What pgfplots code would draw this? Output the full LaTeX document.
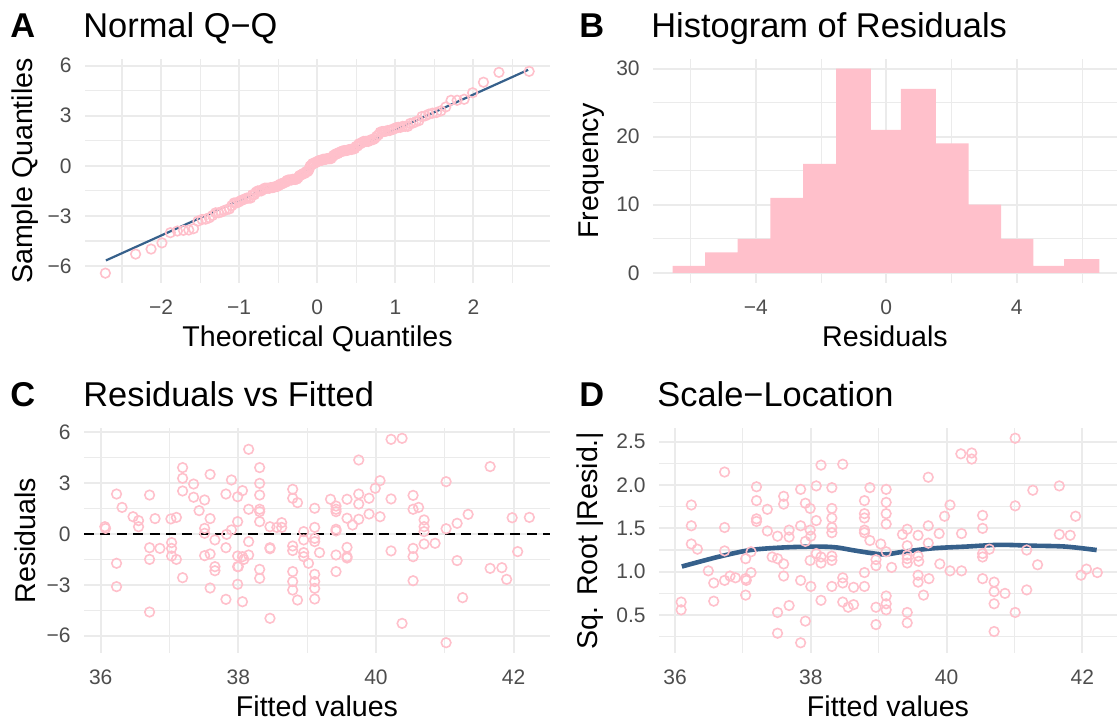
\documentclass[border=0pt]{standalone}
\usepackage{fontspec}
\setmainfont{Liberation Sans}
\usepackage{pgfplots}
\pgfplotsset{compat=1.18}

\definecolor{pinkc}{RGB}{255,192,203}
\definecolor{lineblue}{RGB}{54,96,139}
\definecolor{gridc}{RGB}{235,235,235}
\definecolor{tickc}{RGB}{77,77,77}

\newcommand{\lblfont}{\fontsize{14.3}{16}\selectfont}
\newcommand{\ttl}{\fontsize{17.2}{19}\selectfont}

\pgfplotsset{
  diag/.style={
    scale only axis,
    axis line style={draw=none},
    major tick length=0pt, minor tick length=0pt,
    grid=both,
    major grid style={gridc, line width=1pt},
    minor grid style={gridc, line width=0.55pt},
    /pgf/number format/assume math mode=true,
    /pgf/number format/fixed,
    tick label style={font=\fontsize{10.5}{12}\selectfont, text=tickc},
    xticklabel style={anchor=base, yshift=-15.5pt, inner sep=0pt},
    yticklabel style={anchor=east, xshift=-6.5pt, inner sep=0pt},
    every axis x label/.style={at={(rel axis cs:0.5,0)}, anchor=base, yshift=-31.5pt,
      inner sep=0pt, font=\lblfont},
    every axis y label/.style={rotate=90, anchor=center, inner sep=0pt, font=\lblfont},
  },
  pts/.style={only marks, mark=o, mark size=2.4pt, pinkc, mark options={line width=0.8pt}},
}

\begin{document}
\begin{tikzpicture}
\useasboundingbox (0,0) rectangle (558.5pt,360pt);

% A: Normal Q-Q
\begin{axis}[diag,
  at={(42.5pt,218.5pt)}, anchor=south west,
  width=232.5pt, height=112pt,
  xmin=-2.974, xmax=2.98, ymin=-7.01, ymax=6.39,
  xtick={-2,-1,0,1,2}, xticklabels={−2,−1,0,1,2},
  minor xtick={-2.5,-1.5,-0.5,0.5,1.5,2.5},
  ytick={-6,-3,0,3,6}, yticklabels={−6,−3,0,3,6},
  minor ytick={-4.5,-1.5,1.5,4.5},
  xlabel={Theoretical Quantiles}, ylabel={Sample Quantiles},
  ylabel style={at={([xshift=-30pt]rel axis cs:0,0.5)}},
]
\addplot[pts] coordinates {
(-2.713,-6.42) (-2.326,-5.28) (-2.128,-4.98) (-1.989,-4.61) (-1.881,-4.00)
(-1.791,-3.90) (-1.713,-3.86) (-1.645,-3.84) (-1.584,-3.76) (-1.528,-3.31)
(-1.476,-3.21) (-1.428,-3.19) (-1.383,-3.11) (-1.341,-2.97) (-1.301,-2.81)
(-1.263,-2.81) (-1.227,-2.76) (-1.192,-2.68) (-1.159,-2.62) (-1.126,-2.58)
(-1.095,-2.38) (-1.065,-2.22) (-1.036,-2.22) (-1.008,-2.17) (-0.981,-2.09)
(-0.954,-2.03) (-0.928,-1.99) (-0.903,-1.93) (-0.878,-1.93) (-0.854,-1.93)
(-0.830,-1.73) (-0.806,-1.73) (-0.783,-1.57) (-0.761,-1.50) (-0.739,-1.50)
(-0.717,-1.50) (-0.696,-1.42) (-0.674,-1.34) (-0.654,-1.34) (-0.633,-1.34)
(-0.613,-1.34) (-0.593,-1.30) (-0.573,-1.30) (-0.553,-1.28) (-0.534,-1.24)
(-0.515,-1.24) (-0.496,-1.18) (-0.477,-1.10) (-0.459,-1.10) (-0.440,-1.04)
(-0.422,-1.00) (-0.404,-0.98) (-0.385,-0.87) (-0.367,-0.85) (-0.349,-0.85)
(-0.332,-0.85) (-0.314,-0.81) (-0.297,-0.81) (-0.279,-0.81) (-0.262,-0.79)
(-0.245,-0.71) (-0.228,-0.59) (-0.210,-0.55) (-0.193,-0.51) (-0.176,-0.45)
(-0.159,-0.45) (-0.143,-0.35) (-0.126,-0.35) (-0.109,-0.26) (-0.092,-0.02)
(-0.075,0.04) (-0.059,0.14) (-0.042,0.14) (-0.025,0.18) (-0.008,0.24)
(0.008,0.28) (0.025,0.31) (0.042,0.33) (0.059,0.33) (0.075,0.39)
(0.092,0.39) (0.109,0.39) (0.126,0.43) (0.143,0.43) (0.159,0.43)
(0.176,0.43) (0.193,0.53) (0.210,0.63) (0.228,0.67) (0.245,0.73)
(0.262,0.73) (0.279,0.79) (0.297,0.83) (0.314,0.87) (0.332,0.89)
(0.349,0.91) (0.367,0.91) (0.385,0.93) (0.404,0.96) (0.422,0.98)
(0.440,0.98) (0.459,1.02) (0.477,1.02) (0.496,1.16) (0.515,1.18)
(0.534,1.32) (0.553,1.32) (0.573,1.38) (0.593,1.46) (0.613,1.46)
(0.633,1.46) (0.654,1.46) (0.674,1.52) (0.696,1.57) (0.717,1.57)
(0.739,1.65) (0.761,1.77) (0.783,1.85) (0.806,2.01) (0.830,2.05)
(0.854,2.05) (0.878,2.07) (0.903,2.11) (0.928,2.11) (0.954,2.17)
(0.981,2.20) (1.008,2.28) (1.036,2.30) (1.065,2.30) (1.095,2.36)
(1.126,2.36) (1.159,2.36) (1.192,2.54) (1.227,2.56) (1.263,2.64)
(1.301,2.70) (1.341,2.95) (1.383,2.99) (1.428,3.09) (1.476,3.15)
(1.528,3.19) (1.584,3.29) (1.645,3.52) (1.713,3.92) (1.791,3.92)
(1.881,3.98) (1.989,4.37) (2.128,5.00) (2.326,5.59) (2.713,5.65)
};
\addplot[lineblue, line width=1.1pt] coordinates {(-2.706,-5.66) (2.70,5.74)};
\end{axis}

% B: Histogram
\begin{axis}[diag,
  at={(326.5pt,218.5pt)}, anchor=south west,
  width=232pt, height=112pt,
  xmin=-7.15, xmax=7.07, ymin=-1.5, ymax=31.4,
  xtick={-4,0,4}, xticklabels={−4,0,4},
  minor xtick={-6,-2,2,6},
  ytick={0,10,20,30}, minor ytick={5,15,25},
  xlabel={Residuals}, ylabel={Frequency},
  ylabel style={at={([xshift=-30.5pt]rel axis cs:0,0.5)}},
]
\addplot[ybar interval, fill=pinkc, draw=none] coordinates {
(-6.55,1) (-5.55,3) (-4.56,5) (-3.55,11) (-2.55,16) (-1.54,30) (-0.47,21)
(0.45,27) (1.52,19) (2.52,10) (3.52,5) (4.51,1) (5.45,2) (6.53,2)
};
\end{axis}

% C: Residuals vs Fitted
\begin{axis}[diag,
  at={(42pt,33.5pt)}, anchor=south west,
  width=233pt, height=112.5pt,
  xmin=35.757, xmax=42.53, ymin=-7.03, ymax=6.26,
  xtick={36,38,40,42}, minor xtick={37,39,41},
  ytick={-6,-3,0,3,6}, yticklabels={−6,−3,0,3,6},
  minor ytick={-4.5,-1.5,1.5,4.5},
  xlabel={Fitted values}, ylabel={Residuals},
  ylabel style={at={([xshift=-29.5pt]rel axis cs:0,0.5)}},
]
\addplot[pts] coordinates {
(36.06,0.43) (36.07,0.33) (36.23,2.36) (36.31,1.57) (36.23,-1.73) (36.23,-3.11)
(36.47,1.02) (36.55,0.79) (36.55,0.43) (36.71,2.30) (36.71,-0.81) (36.71,-1.50)
(36.71,-4.61) (36.79,0.91) (36.86,-0.85) (37.02,0.89) (37.03,-0.51) (37.03,-0.85)
(37.03,-1.30) (37.10,0.98) (37.10,-1.50) (37.19,3.92) (37.19,3.29) (37.19,2.54)
(37.19,-2.58) (37.35,2.95) (37.35,2.17) (37.43,1.38) (37.51,2.01) (37.51,0.33)
(37.51,0.04) (37.51,-1.28) (37.59,3.52) (37.59,0.91) (37.59,-1.18) (37.59,-3.19)
(37.66,-0.35) (37.66,-1.93) (37.66,-2.17) (37.82,2.36) (37.82,-0.81) (37.82,-3.86)
(37.83,-0.02) (37.90,3.19) (37.90,0.24) (37.99,2.20) (37.99,0.73) (37.99,-1.30)
(37.99,-1.93) (38.00,-1.93) (37.99,-2.97) (38.06,2.56) (38.06,-1.34) (38.08,-1.50)
(38.06,-4.00) (38.15,5.00) (38.15,1.46) (38.15,-0.45) (38.15,-1.24) (38.31,3.92)
(38.31,2.99) (38.31,2.30) (38.31,1.46) (38.31,1.32) (38.31,0.73) (38.31,-2.09)
(38.31,-2.62) (38.46,0.43) (38.46,-0.81) (38.46,-0.87) (38.46,-4.98) (38.56,0.39)
(38.63,0.67) (38.63,0.39) (38.79,2.64) (38.79,2.11) (38.79,-0.71) (38.79,-0.98)
(38.79,-2.22) (38.79,-2.81) (38.79,-3.31) (38.86,1.85) (38.86,-3.90) (38.95,0.14)
(38.95,-0.35) (38.95,-1.10) (38.95,-1.34) (39.02,-1.73) (39.11,1.52) (39.11,0.39)
(39.11,-0.26) (39.11,-0.45) (39.11,-2.38) (39.11,-2.81) (39.11,-3.21) (39.11,-3.84)
(39.18,-1.10) (39.34,2.05) (39.42,1.65) (39.42,1.46) (39.42,1.32) (39.42,0.28)
(39.42,0.18) (39.42,-1.24) (39.42,-2.22) (39.58,2.05) (39.58,0.93) (39.58,-0.79)
(39.58,-1.34) (39.58,-1.42) (39.66,0.53) (39.75,4.37) (39.75,2.36) (39.75,1.77)
(39.75,0.87) (39.90,2.11) (39.90,1.18) (39.99,2.70) (40.06,3.15) (40.06,1.02)
(40.22,5.59) (40.22,2.07) (40.22,-1.00) (40.38,5.65) (40.38,-5.28) (40.54,2.28)
(40.54,1.46) (40.54,-0.85) (40.54,-1.34) (40.54,-2.76) (40.62,1.57) (40.70,0.83)
(40.70,0.43) (40.70,0.14) (40.70,-0.59) (40.86,-0.55) (41.02,3.09) (41.02,0.31)
(41.02,-6.42) (41.18,0.63) (41.18,-1.57) (41.26,-3.76) (41.34,1.16) (41.66,3.98)
(41.66,-2.03) (41.83,-1.99) (41.90,-2.68) (41.98,0.96) (42.06,-1.04) (42.23,0.98)
};
\addplot[black, line width=1.1pt, dash pattern=on 5pt off 3.2pt] coordinates {(35.757,0) (42.53,0)};
\end{axis}

% D: Scale-Location
\begin{axis}[diag,
  at={(329.5pt,33.5pt)}, anchor=south west,
  width=229pt, height=112.5pt,
  xmin=35.764, xmax=42.51, ymin=0.062, ymax=2.658,
  xtick={36,38,40,42}, minor xtick={37,39,41},
  ytick={0.5,1.0,1.5,2.0,2.5}, yticklabels={0.5,1.0,1.5,2.0,2.5},
  minor ytick={0.25,0.75,1.25,1.75,2.25},
  xlabel={Fitted values}, ylabel={Sq. Root |Resid.|},
  ylabel style={at={([xshift=-34.5pt]rel axis cs:0,0.5)}},
]
\addplot[pts] coordinates {
(36.09,0.65) (36.09,0.56) (36.24,1.77) (36.24,1.53) (36.24,1.32) (36.33,1.26)
(36.49,1.01) (36.57,0.87) (36.57,0.66) (36.73,2.15) (36.73,1.51) (36.73,1.24)
(36.73,0.90) (36.81,0.95) (36.89,0.93) (37.04,1.15) (37.04,0.92) (37.05,0.90)
(37.04,0.73) (37.12,1.23) (37.12,0.99) (37.20,1.98) (37.20,1.82) (37.20,1.61)
(37.20,1.58) (37.36,1.72) (37.36,1.47) (37.43,1.17) (37.51,1.41) (37.51,1.15)
(37.51,0.53) (37.51,0.29) (37.60,1.87) (37.60,1.78) (37.60,1.09) (37.60,0.95)
(37.68,1.48) (37.68,1.40) (37.68,0.61) (37.85,1.95) (37.85,1.53) (37.85,0.90)
(37.85,0.18) (37.92,1.79) (37.92,1.35) (37.92,0.43) (37.99,1.73) (37.99,1.48)
(38.00,1.41) (37.99,1.13) (38.00,0.83) (38.08,1.99) (38.08,1.59) (38.08,1.21)
(38.15,1.17) (38.15,1.10) (38.15,2.23) (38.15,0.67) (38.31,1.97) (38.31,1.73)
(38.31,1.62) (38.31,1.51) (38.31,1.45) (38.31,1.18) (38.31,1.13) (38.31,0.83)
(38.47,2.24) (38.47,0.93) (38.47,0.87) (38.47,0.65) (38.55,0.59) (38.63,0.62)
(38.63,0.82) (38.79,1.82) (38.79,1.67) (38.79,1.62) (38.79,1.48) (38.79,1.45)
(38.79,0.99) (38.79,0.83) (38.87,1.97) (38.87,1.36) (38.96,1.14) (38.96,1.07)
(38.96,0.59) (38.96,0.39) (39.03,1.32) (39.11,1.95) (39.11,1.80) (39.11,1.67)
(39.11,1.55) (39.11,1.23) (39.11,0.72) (39.11,0.63) (39.11,0.56) (39.19,1.05)
(39.35,1.43) (39.42,1.49) (39.42,1.30) (39.42,1.19) (39.42,1.15) (39.42,1.10)
(39.42,0.53) (39.42,0.41) (39.58,1.42) (39.58,1.18) (39.59,1.12) (39.58,0.96)
(39.58,0.88) (39.66,0.73) (39.73,2.09) (39.73,1.53) (39.73,1.33) (39.74,0.92)
(39.89,1.44) (39.90,1.09) (39.97,1.64) (40.05,1.77) (40.05,1.01) (40.21,2.36)
(40.22,1.44) (40.22,1.01) (40.37,2.37) (40.37,2.30) (40.53,1.65) (40.53,1.50)
(40.53,1.21) (40.53,1.17) (40.63,1.26) (40.53,0.92) (40.70,0.88) (40.70,0.77)
(40.70,0.63) (40.70,0.31) (40.86,0.75) (41.01,2.54) (41.01,1.76) (41.01,0.53)
(41.18,1.25) (41.18,0.79) (41.27,1.94) (41.34,1.08) (41.66,1.99) (41.66,1.43)
(41.82,1.42) (41.90,1.64) (41.98,0.96) (42.06,1.03) (42.22,0.99)
};
\addplot[lineblue, line width=2.3pt, smooth] coordinates {
(36.10,1.06) (36.63,1.17) (37.11,1.25) (37.60,1.28) (38.09,1.29) (38.38,1.28)
(38.68,1.24) (39.07,1.20) (39.36,1.23) (39.80,1.27) (40.29,1.29) (40.78,1.31)
(41.27,1.30) (41.75,1.29) (42.21,1.25)
};
\end{axis}

% panel tags and titles
\node[anchor=base west, inner sep=0pt, font=\ttl\bfseries] at (5pt,341.5pt) {A};
\node[anchor=base west, inner sep=0pt, font=\ttl] at (41.5pt,341.5pt) {Normal Q−Q};
\node[anchor=base west, inner sep=0pt, font=\ttl\bfseries] at (289.5pt,341.5pt) {B};
\node[anchor=base west, inner sep=0pt, font=\ttl] at (325.5pt,341.5pt) {Histogram of Residuals};
\node[anchor=base west, inner sep=0pt, font=\ttl\bfseries] at (5pt,157pt) {C};
\node[anchor=base west, inner sep=0pt, font=\ttl] at (41.5pt,157pt) {Residuals vs Fitted};
\node[anchor=base west, inner sep=0pt, font=\ttl\bfseries] at (289.5pt,157pt) {D};
\node[anchor=base west, inner sep=0pt, font=\ttl] at (328.5pt,157pt) {Scale−Location};
\end{tikzpicture}
\end{document}
